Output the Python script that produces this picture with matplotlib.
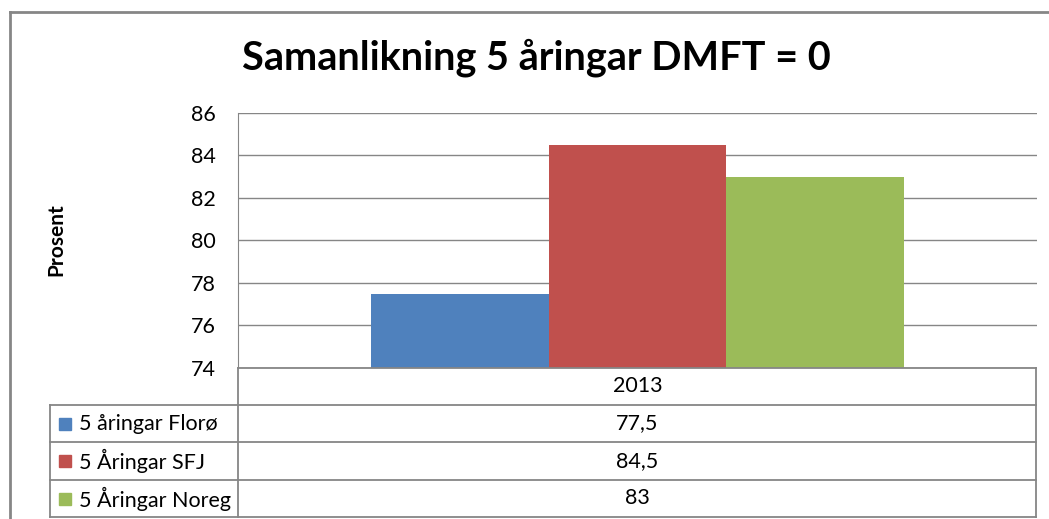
import matplotlib.pyplot as plt
from matplotlib.lines import Line2D
from matplotlib.patches import Rectangle

# data
category = "2013"
series_names = ["5 åringar Florø", "5 Åringar SFJ", "5 Åringar Noreg"]
series_values = [77.5, 84.5, 83.0]
series_colors = ["#4F81BD", "#C0504D", "#9BBB59"]
y_ticks = [74, 76, 78, 80, 82, 84, 86]

W, H = 1049, 519
GRID = "#868686"
FONT = "Lato"
SMALL = 15.5


def fx(px):
    return px / W


def fy(py):
    return 1 - py / H


fig = plt.figure(figsize=(W / 100, H / 100), dpi=100)

# plot area
left, top, right, bottom = 238, 113, 1037, 368
ax = fig.add_axes([fx(left), fy(bottom), fx(right - left), (bottom - top) / H])
bar_w = 1 / 4.5
for i, (val, col) in enumerate(zip(series_values, series_colors)):
    ax.bar((i - 1) * bar_w, val - y_ticks[0], bottom=y_ticks[0], width=bar_w,
           color=col, zorder=3)
ax.set_xlim(-0.5, 0.5)
ax.set_ylim(y_ticks[0], y_ticks[-1])
ax.set_yticks(y_ticks)
ax.set_yticklabels([str(t) for t in y_ticks], fontfamily=FONT, fontsize=SMALL)
ax.tick_params(axis="y", length=0, pad=16)
ax.set_xticks([])
ax.yaxis.grid(True, color=GRID, linewidth=1)
ax.set_axisbelow(True)
for side in ["top", "right", "bottom"]:
    ax.spines[side].set_visible(False)
ax.spines["left"].set_color(GRID)

# title and axis label
fig.text(fx(536), fy(58), "Samanlikning 5 åringar DMFT = 0", ha="center", va="center",
         fontfamily=FONT, fontweight="bold", fontsize=28.5)
fig.text(fx(56), fy(240), "Prosent", rotation=90, ha="center", va="center",
         fontfamily=FONT, fontweight="bold", fontsize=15)

# data table
rows = [368, 405, 442, 480, 517]
tx0, tx1 = 50, 1036
lines = [
    ((left, left), (bottom, rows[-1])),
    ((tx1, tx1), (rows[0], rows[-1])),
    ((tx0, tx0), (rows[1], rows[-1])),
    ((left, tx1), (rows[0], rows[0])),
]
for r in rows[1:]:
    lines.append(((tx0, tx1), (r, r)))
for xs, ys in lines:
    fig.add_artist(Line2D([fx(x) for x in xs], [fy(y) for y in ys], color=GRID,
                          linewidth=1.3))

center_x = (left + right) / 2
fig.text(fx(center_x), fy((rows[0] + rows[1]) / 2), category, ha="center", va="center",
         fontfamily=FONT, fontsize=SMALL)
for i, (name, val, col) in enumerate(zip(series_names, series_values, series_colors)):
    yc = (rows[i + 1] + rows[i + 2]) / 2
    fig.add_artist(Rectangle((fx(59), fy(yc + 6)), 12 / W, 12 / H, color=col,
                             transform=fig.transFigure))
    fig.text(fx(79), fy(yc), name, ha="left", va="center", fontfamily=FONT,
             fontsize=SMALL)
    label = f"{val:g}".replace(".", ",")
    fig.text(fx(center_x), fy(yc), label, ha="center", va="center",
             fontfamily=FONT, fontsize=SMALL)

# outer chart frame
fig.add_artist(Line2D([fx(10), fx(10)], [fy(12), 0], color=GRID, linewidth=2))
fig.add_artist(Line2D([fx(10), 1], [fy(12), fy(12)], color=GRID, linewidth=2))

fig.savefig("out.png", dpi=100)
